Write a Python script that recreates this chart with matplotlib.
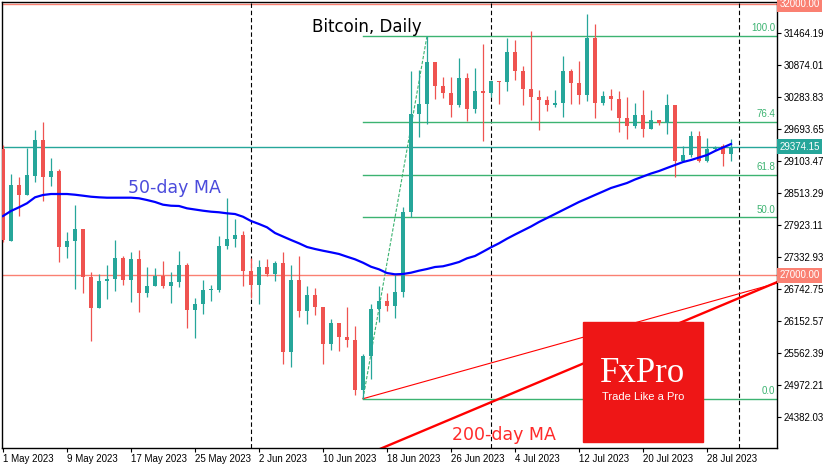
import matplotlib.pyplot as plt
from matplotlib.patches import Rectangle

# daily candles, 1 May 2023 .. 31 Jul 2023
opens = [29325, 27639, 28666, 28482, 28832, 29496, 28819, 28930, 27528, 27633,
         27855, 26975, 26403, 26896, 26932, 27325, 26914, 27301, 26680, 26803,
         26993, 26809, 26883, 27191, 26361, 26471, 26730, 26735, 27541, 27670,
         27744, 27086, 26822, 27154, 27025, 27227, 25592, 26914, 26342, 26637,
         26422, 25739, 26121, 25868, 25813, 24891, 25512, 26379, 26527, 26434,
         26693, 28168, 29975, 30160, 30935, 30497, 30368, 30147, 30639, 30068,
         30405, 30368, 30584, 30566, 31119, 30774, 30437, 30295, 30234, 30147,
         30178, 30769, 30553, 30331, 31377, 30178, 30307, 30258, 29907, 29760,
         29957, 29704, 29865, 29804, 30141, 29114, 29219, 29570, 29114, 29330,
         29390, 29243]
highs = [29400, 28869, 28808, 29354, 29680, 29828, 29164, 28961, 27799, 28297,
         27855, 27056, 27025, 27191, 27652, 27362, 27436, 27467, 27159, 27141,
         27264, 27062, 27449, 27228, 26576, 26914, 26822, 27725, 28421, 28039,
         27818, 27314, 27283, 27301, 27264, 27436, 27191, 27357, 26803, 26766,
         26422, 26195, 26121, 26416, 26066, 25549, 26471, 26803, 26674, 27006,
         28266, 30774, 30787, 31414, 30935, 30658, 30658, 31008, 30737, 30824,
         31272, 30584, 30590, 31377, 31340, 30861, 31506, 30418, 30307, 30418,
         31045, 30805, 30953, 31820, 31635, 30400, 30437, 30400, 30289, 30178,
         30418, 30049, 29870, 30344, 30141, 29385, 29662, 29662, 29533, 29391,
         29428, 29514]
lows = [27620, 27630, 28094, 28482, 28727, 28376, 28648, 27252, 27325, 26754,
        26680, 25795, 26403, 26564, 26717, 26822, 26514, 26329, 26606, 26803,
        26761, 26495, 26779, 26023, 25839, 26287, 26532, 26698, 27486, 27528,
        26803, 26576, 26471, 26988, 26901, 25365, 25315, 26237, 26108, 26274,
        25365, 25623, 25605, 25678, 24799, 24725, 25094, 26139, 26342, 26219,
        26606, 28081, 29551, 29791, 30252, 30271, 29920, 30110, 29846, 29999,
        29483, 30295, 30165, 30405, 30603, 30147, 29865, 29680, 30036, 30110,
        29926, 30165, 30165, 30221, 29907, 30147, 30055, 29649, 29520, 29723,
        29557, 29704, 29778, 29612, 28819, 29090, 29188, 29096, 29096, 29317,
        29022, 29109]
closes = [27652, 28666, 28482, 28850, 29496, 28819, 28930, 27528, 27633, 27855,
          26975, 26403, 26896, 26932, 27325, 26914, 27301, 26680, 26803, 26993,
          26809, 26883, 27191, 26361, 26471, 26730, 26735, 27541, 27670, 27744,
          27086, 26822, 27154, 27025, 27227, 25592, 26914, 26342, 26637, 26422,
          25739, 26121, 25868, 25813, 24891, 25512, 26379, 26527, 26434, 26693,
          28168, 29975, 30160, 30935, 30497, 30368, 30147, 30639, 30068, 30405,
          30368, 30584, 30566, 31119, 30774, 30437, 30295, 30234, 30147, 30178,
          30769, 30553, 30331, 31377, 30178, 30307, 30258, 29907, 29760, 29957,
          29704, 29865, 29804, 30141, 29114, 29219, 29570, 29114, 29330, 29354,
          29243, 29374.15]

ma50 = [28094, 28187, 28255, 28329, 28439, 28482, 28500, 28500, 28500, 28487,
        28469, 28450, 28439, 28432, 28432, 28432, 28432, 28421, 28389, 28353,
        28303, 28284, 28279, 28236, 28214, 28192, 28174, 28163, 28144, 28131,
        28081, 28002, 27947, 27886, 27781, 27716, 27652, 27591, 27523, 27486,
        27454, 27425, 27394, 27344, 27296, 27233, 27159, 27111, 27043, 27019,
        27025, 27049, 27086, 27117, 27154, 27167, 27204, 27246, 27314, 27357,
        27436, 27517, 27591, 27676, 27753, 27827, 27901, 27984, 28057, 28131,
        28205, 28279, 28353, 28417, 28482, 28546, 28611, 28657, 28703, 28768,
        28823, 28878, 28924, 28980, 29035, 29090, 29127, 29173, 29219, 29293,
        29358, 29422]

ma200_days = [47, 60, 72, 84, 97]
ma200 = [23791, 24598, 25341, 26086, 26890]

trend_days = [45, 97]
trend_vals = [24725, 26867]

fib_start, fib_end = 45, 53
fib_low, fib_high = 24720, 31414
fib_levels = [0.0, 50.0, 61.8, 76.4, 100.0]

last_price = 29374.15
levels = [32000, 27000]
month_starts = [31, 61, 92]

yticks = [24382.03, 24972.21, 25562.39, 26152.57, 26742.75, 27332.93, 27923.11,
          28513.29, 29103.47, 29693.65, 30283.83, 30874.01, 31464.19]
xticks = [0, 8, 16, 24, 32, 40, 48, 56, 64, 72, 80, 88]
xlabels = ['1 May 2023', '9 May 2023', '17 May 2023', '25 May 2023', '2 Jun 2023',
           '10 Jun 2023', '18 Jun 2023', '26 Jun 2023', '4 Jul 2023', '12 Jul 2023',
           '20 Jul 2023', '28 Jul 2023']

UP, DOWN = '#26a69a', '#ef5350'
FIB = '#3cb371'
SALMON = '#fa8072'

fig = plt.figure(figsize=(8.35, 4.7), dpi=100)
ax = fig.add_axes([2 / 835, 22 / 470, 775 / 835, 446 / 470])
ax.set_xlim(-0.125, 96.75)
ax.set_ylim(23816, 32041)

# horizontal levels
for lv in levels:
    ax.axhline(lv, color=SALMON, lw=1, zorder=1)
ax.axhline(last_price, color=UP, lw=1, zorder=1)
for d in month_starts:
    ax.axvline(d, color='black', lw=0.8, ls=(0, (4, 2.5)), zorder=1)

# fibonacci
for lv in fib_levels:
    p = fib_low + (fib_high - fib_low) * lv / 100
    ax.plot([fib_start, 100], [p, p], color=FIB, lw=1, zorder=2)
    ax.text(96.55, p + 50, '%.1f' % lv, color=FIB, ha='right', va='bottom',
            fontsize=7, family='Liberation Sans')
ax.plot([fib_start, fib_end], [fib_low, fib_high], color=FIB, lw=0.8,
        ls=(0, (3, 1.5)), zorder=2)

# trend line and 200-day MA
ax.plot(trend_days, trend_vals, color='red', lw=0.8, zorder=2)
ax.plot(ma200_days, ma200, color='red', lw=1.7, zorder=2)

# candles
for i in range(len(opens)):
    o, h, l, c = opens[i], highs[i], lows[i], closes[i]
    col = UP if c >= o else DOWN
    ax.vlines(i, l, h, color=col, lw=0.9, zorder=3)
    ax.bar(i, max(abs(c - o), 18), bottom=min(o, c), width=0.62, color=col, lw=0, zorder=3)

ax.plot(range(len(ma50)), ma50, color='#0000ff', lw=1.6, zorder=4)

ax.text(38.6, 31580, 'Bitcoin, Daily', fontsize=12, color='black', va='center')
ax.text(15.6, 28611, '50-day MA', fontsize=12.5, color='#4b4bdc', va='center')
ax.text(56.1, 24055, '200-day MA', fontsize=12.5, color='#ff2a2a', va='center')

# axes
ax.yaxis.tick_right()
ax.set_yticks(yticks)
ax.set_yticklabels(['%.2f' % v for v in yticks], family='Liberation Sans', fontsize=7)
ax.set_xticks(xticks)
ax.set_xticklabels(xlabels, family='Liberation Sans', fontsize=7, ha='left')
ax.tick_params(axis='y', length=3, pad=1.5, width=0.8)
ax.tick_params(axis='x', length=3, pad=1.5, width=0.8)
for s in ax.spines.values():
    s.set_linewidth(1)

# price tags
tr = ax.get_yaxis_transform()
for val, bg in [(32000, SALMON), (27000, SALMON), (last_price, UP)]:
    ax.text(1.003, val, '%.2f' % val, transform=tr, fontsize=7, family='Liberation Sans',
            color='white', ha='left', va='center', clip_on=False,
            bbox=dict(boxstyle='square,pad=0.28', fc=bg, ec='none'))

# logo
fig.patches.append(Rectangle((583 / 835, 28 / 470), 120 / 835, 120 / 470,
                             transform=fig.transFigure, color='#ee1616', zorder=10))
fig.text(643 / 835, 97 / 470, 'FxPro', family='Liberation Serif', fontsize=25,
         color='white', ha='center', va='center', zorder=11)
fig.text(643 / 835, 73 / 470, 'Trade Like a Pro', family='Liberation Sans', fontsize=8,
         color='white', ha='center', va='center', zorder=11)

fig.savefig('out.png', dpi=100)
